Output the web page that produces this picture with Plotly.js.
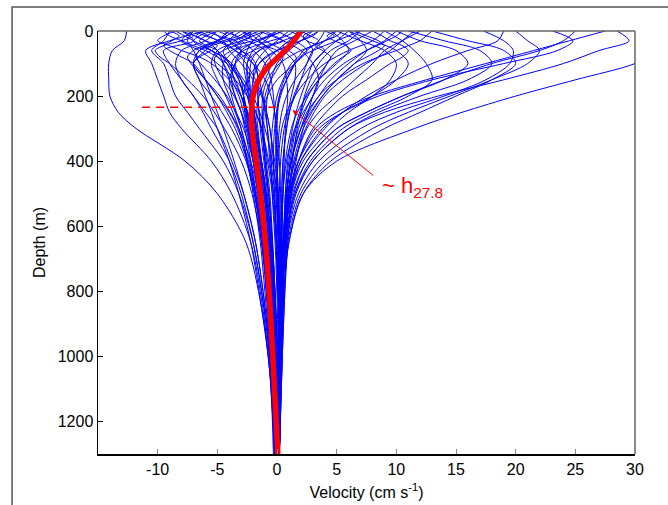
<!DOCTYPE html>
<html>
<head>
<meta charset="utf-8">
<script src="https://cdn.plot.ly/plotly-3.0.1.min.js"></script>
<style>html,body{margin:0;padding:0;background:#fff;}#chart{width:668px;height:505px;}</style>
</head>
<body>
<div id="chart"></div>
<script>
const depth = [0, 30, 60, 100, 150, 200, 250, 300, 400, 500, 650, 850, 1050, 1300];
// Finer depth levels for profiles with near-surface wiggles
const depthFine = [0, 15, 30, 45, 60, 80, 100, 150, 200, 300, 400, 500, 700, 1000, 1300];

// Surface-intensified eastward jet profiles (cm/s)
const jetProfiles = [
  [33, 33, 32, 30, 25, 20, 15.5, 11.5, 5, 2.2, 1.0, 0.5, 0.3, 0.1],
  [27.5, 24.5, 21.5, 17.5, 12.5, 8, 5, 3.2, 1.8, 1.0, 0.5, 0.3, 0.2, 0.1],
  [17.3, 19, 19.8, 19.5, 17.5, 14, 10, 7, 3.5, 1.8, 0.8, 0.4, 0.2, 0],
  [23.1, 24.8, 23.5, 19, 13, 8.5, 5.5, 3.5, 1.8, 1.0, 0.5, 0.3, 0.2, 0],
  [20, 21, 22, 21, 18, 14.5, 11, 8, 4, 2, 0.9, 0.4, 0.2, 0],
  [13, 16, 19, 20, 18, 15, 12, 9, 4.5, 2.2, 1.0, 0.5, 0.2, 0],
  [11, 14, 17, 18, 16, 12, 8.5, 6, 3, 1.6, 0.8, 0.4, 0.2, 0],
  [10, 12, 15, 16, 14, 10.5, 7.5, 5, 2.5, 1.4, 0.7, 0.3, 0.1, 0],
  [9, 10.5, 11.5, 12.5, 13, 11, 8, 5.5, 2.8, 1.5, 0.7, 0.3, 0.1, 0],
  [12, 10.5, 9, 8, 6.5, 5, 3.5, 2.5, 1.5, 0.9, 0.5, 0.3, 0.1, 0],
  [10, 9, 7.5, 6, 4.5, 3.5, 2.5, 2, 1.2, 0.8, 0.5, 0.3, 0.1, 0],
  [6, 8, 10, 11, 10, 8, 5.5, 3.8, 2, 1.2, 0.6, 0.3, 0.1, 0],
  [25, 24, 22, 18, 14, 10.5, 7.5, 5, 2.5, 1.3, 0.6, 0.3, 0.1, 0],
  [28.5, 29.5, 27, 24, 19, 13.5, 9, 6, 3, 1.5, 0.7, 0.3, 0.1, 0],
  [5, 7, 9, 10, 9.5, 8, 6, 4.5, 2.2, 1.2, 0.6, 0.3, 0.1, 0],
  [19, 18.5, 16, 13, 10, 7.5, 5.5, 4, 2, 1.1, 0.5, 0.2, 0.1, 0]
];

// Westward (negative) profiles
const westProfiles = [
  [-12.6, -12.8, -13.8, -14.1, -14.1, -14, -13.3, -11.8, -7.7, -5, -2.6, -1.3, -0.6, -0.3],
  [-6, -9, -11, -10.5, -10, -9.5, -9, -8, -5.5, -3.8, -2.2, -1.2, -0.6, -0.2],
  [-9, -9.5, -10.5, -9.5, -9, -8.5, -7.5, -6.5, -4.5, -3.2, -2, -1.1, -0.5, -0.2],
  [-8, -7, -9.5, -9, -8, -7, -6, -5, -3.8, -2.8, -1.8, -1.0, -0.5, -0.2],
  [-5, -6, -8, -8.5, -8, -7, -6.2, -5.5, -4, -3, -2, -1.1, -0.5, -0.2],
  [-7, -7.5, -7, -6.5, -6, -5.5, -5, -4.5, -3.6, -2.8, -1.8, -1.0, -0.5, -0.2],
  [-4, -5, -6, -7, -6.5, -6, -5.5, -5, -4, -3.2, -2.2, -1.3, -0.6, -0.2]
];

// Central bundle of profiles
const centralProfiles = [
  [-8, -6, -5, -4.5, -4, -3.5, -3, -2.7, -2.2, -1.8, -1.2, -0.8, -0.4, -0.1],
  [-6, -4, -3, -3.5, -4, -3.8, -3.4, -3, -2.5, -2, -1.4, -0.9, -0.4, -0.1],
  [-5, -6.5, -5, -4, -3, -2.5, -2.2, -2, -1.8, -1.5, -1.1, -0.7, -0.3, 0],
  [-3, -2, -3, -3.5, -3, -2.8, -2.6, -2.4, -2, -1.6, -1.1, -0.6, -0.3, 0],
  [-2, -3.5, -4.5, -4, -3.2, -2.8, -2.5, -2.2, -1.8, -1.4, -1.0, -0.6, -0.3, 0],
  [-1, -2, -2.5, -2.8, -2.6, -2.4, -2.2, -2, -1.6, -1.2, -0.8, -0.5, -0.2, 0],
  [0, -1, -2, -2.5, -2.5, -2.3, -2.1, -1.9, -1.5, -1.1, -0.7, -0.4, -0.2, 0.1],
  [1, 0, -1, -1.8, -2, -2, -1.9, -1.7, -1.3, -0.9, -0.5, -0.2, 0, 0.1],
  [2, 1, 0, -1, -1.5, -1.6, -1.5, -1.3, -1, -0.7, -0.4, -0.1, 0.1, 0.1],
  [3, 2, 1, 0, -0.5, -0.8, -0.9, -0.8, -0.6, -0.3, 0, 0.2, 0.2, 0.1],
  [4, 3.5, 2.5, 1.5, 0.8, 0.3, 0, -0.1, -0.1, 0, 0.2, 0.3, 0.3, 0.2],
  [5, 4, 3, 2.5, 2, 1.5, 1, 0.8, 0.5, 0.4, 0.4, 0.4, 0.3, 0.2],
  [6, 5, 4, 3, 2.5, 2, 1.6, 1.3, 0.9, 0.7, 0.6, 0.5, 0.4, 0.2],
  [7, 6, 4.5, 3.5, 2.8, 2.3, 2, 1.7, 1.3, 1.0, 0.8, 0.6, 0.4, 0.2],
  [8, 6.5, 5, 4.2, 3.5, 3, 2.6, 2.2, 1.6, 1.2, 0.9, 0.6, 0.4, 0.2],
  [-4, -3, -2, -1, -0.5, -0.3, -0.2, -0.1, 0, 0.1, 0.2, 0.3, 0.3, 0.2],
  [-6.5, -5, -3.5, -2, -1, -0.5, -0.2, 0, 0.2, 0.3, 0.3, 0.3, 0.3, 0.2],
  [-2.5, -1.5, -0.5, 0.5, 0.8, 0.9, 0.8, 0.7, 0.6, 0.5, 0.4, 0.4, 0.3, 0.2],
  [1.5, 2.5, 3, 2.5, 1.5, 0.8, 0.4, 0.2, 0, 0, 0.1, 0.2, 0.2, 0.1],
  [-1.5, 0.5, 2, 3, 3.5, 3, 2.2, 1.5, 0.8, 0.5, 0.4, 0.3, 0.3, 0.2],
  [-7, -8, -6.5, -5, -3.5, -2.5, -1.8, -1.3, -0.8, -0.4, -0.1, 0.1, 0.2, 0.1],
  [-3.5, -5, -6.5, -7, -6, -5, -4, -3.3, -2.4, -1.8, -1.2, -0.7, -0.3, -0.1],
  [-1, -3, -5, -5.5, -5, -4.3, -3.7, -3.2, -2.5, -1.9, -1.3, -0.8, -0.4, -0.1],
  [0.5, -1.5, -3.5, -4.5, -4.5, -4, -3.5, -3, -2.3, -1.7, -1.1, -0.6, -0.3, 0],
  [2.5, 0.5, -2, -3.5, -3.8, -3.5, -3, -2.6, -2, -1.5, -1.0, -0.6, -0.3, 0],
  [3.5, 2, 0, -1.5, -2.5, -2.8, -2.7, -2.4, -1.9, -1.4, -0.9, -0.5, -0.2, 0],
  [-5.5, -4.5, -4, -3, -2, -1.3, -0.9, -0.6, -0.3, -0.1, 0.1, 0.2, 0.2, 0.1],
  [-2, -1, 0.5, 1.5, 1.5, 1.2, 0.9, 0.6, 0.3, 0.2, 0.2, 0.3, 0.3, 0.2],
  [4.5, 5.5, 6, 5, 3.5, 2.5, 1.7, 1.2, 0.7, 0.5, 0.4, 0.4, 0.3, 0.2],
  [6, 7, 7.5, 6.5, 5, 3.8, 2.8, 2, 1.2, 0.8, 0.6, 0.5, 0.3, 0.2],
  [-4.5, -2.5, -1, -0.5, -1, -1.5, -1.7, -1.6, -1.3, -1, -0.6, -0.3, -0.1, 0],
  [-8.5, -7, -5.5, -4.5, -3.8, -3.2, -2.8, -2.5, -2, -1.6, -1.1, -0.6, -0.3, 0],
  [0, 1.5, 2.5, 1.5, 0, -0.8, -1.2, -1.2, -1, -0.7, -0.4, -0.1, 0.1, 0.1],
  [9, 8, 6, 4, 2.5, 1.5, 0.8, 0.4, 0.1, 0, 0.1, 0.2, 0.2, 0.1],
  [-3, -4, -3, -2, -1.5, -1.2, -1, -0.8, -0.5, -0.2, 0, 0.2, 0.2, 0.1]
];

// Profiles with near-surface wiggles (read at depthFine)
const wigglyProfiles = [
  [-9, -8.2, -8.8, -9.5, -9, -8, -7, -6, -5, -3.5, -2.5, -1.8, -1, -0.4, -0.1],
  [-8.5, -9.5, -10, -9, -8, -6.5, -5.5, -4, -3, -2, -1.3, -0.9, -0.4, -0.1, 0],
  [-7.5, -7, -8, -9.5, -10.2, -9.8, -9, -7.5, -6.2, -4.4, -3, -2.1, -1.1, -0.5, -0.2],
  [-6, -6.8, -6, -5, -5.5, -6.5, -7, -6.5, -5.5, -3.8, -2.6, -1.9, -1, -0.5, -0.1],
  [-5, -4.2, -5, -6, -5.5, -4.5, -3.8, -3.2, -2.8, -2.2, -1.7, -1.3, -0.7, -0.3, 0],
  [-4, -4.5, -3.5, -3, -3.8, -4.5, -4.2, -3.5, -3, -2.3, -1.8, -1.3, -0.7, -0.3, 0],
  [-3, -2.2, -2.8, -3.5, -3, -2.2, -1.8, -1.6, -1.6, -1.4, -1.1, -0.8, -0.4, -0.1, 0.1],
  [-2, -2.8, -1.8, -1, -1.5, -2.2, -2.5, -2.4, -2.2, -1.8, -1.4, -1, -0.5, -0.2, 0],
  [-1, -0.2, 0.5, -0.5, -1.5, -2, -2.2, -2.3, -2.1, -1.7, -1.3, -0.9, -0.5, -0.2, 0],
  [0, -0.8, -1.5, -1, 0, 0.5, 0.3, -0.5, -1, -1.1, -0.9, -0.6, -0.3, 0, 0.1],
  [1, 1.8, 1.2, 0.5, 1, 1.6, 1.5, 0.8, 0.2, -0.2, -0.3, -0.2, 0, 0.2, 0.2],
  [2, 2.8, 3.5, 3, 2.2, 1.8, 1.2, 0.5, 0, -0.4, -0.5, -0.4, -0.1, 0.1, 0.1],
  [3, 2.2, 2.5, 3.5, 4, 3.5, 3, 2, 1.4, 0.8, 0.5, 0.4, 0.3, 0.2, 0.1],
  [4, 4.8, 4, 3.2, 3.8, 4.5, 4.2, 3.2, 2.4, 1.5, 1, 0.7, 0.5, 0.3, 0.2],
  [5, 4.2, 4.8, 5.8, 6.2, 5.5, 4.8, 3.5, 2.6, 1.6, 1.1, 0.8, 0.5, 0.3, 0.2],
  [6.5, 7.5, 8.5, 9, 8.5, 7.5, 6.5, 5, 3.8, 2.2, 1.4, 0.9, 0.6, 0.3, 0.2],
  [8, 8.8, 9.5, 10.5, 11, 10.5, 9.5, 7.5, 5.5, 3, 1.8, 1.1, 0.6, 0.3, 0.1],
  [11.5, 11, 10.5, 10, 9.5, 8.5, 7.5, 5.5, 4, 2.4, 1.5, 1, 0.6, 0.3, 0.1],
  [13, 12.5, 12, 11, 10, 8.5, 7.2, 5, 3.5, 2, 1.2, 0.8, 0.5, 0.2, 0.1],
  [10.5, 10, 9.2, 8.4, 7.5, 6.5, 5.6, 4, 3, 1.8, 1.2, 0.8, 0.5, 0.3, 0.1],
  [-2.5, -3.2, -4.5, -6, -7, -7.5, -7.2, -6, -4.8, -3.2, -2.2, -1.6, -0.9, -0.4, -0.1],
  [-1.5, -2.5, -4, -5.5, -6.5, -6.8, -6.4, -5.2, -4.2, -2.8, -2, -1.5, -0.8, -0.3, 0],
  [0.5, -0.5, -2, -3.5, -4.5, -5.2, -5.2, -4.5, -3.6, -2.5, -1.8, -1.3, -0.7, -0.3, 0],
  [1.5, 0.8, -0.5, -1.8, -2.8, -3.5, -3.8, -3.6, -3, -2.2, -1.6, -1.1, -0.6, -0.2, 0],
  [-7, -6, -4.8, -4, -3.5, -3, -2.6, -1.8, -1.2, -0.6, -0.2, 0.1, 0.3, 0.3, 0.2],
  [-5.5, -6.5, -7, -6.5, -5.5, -4.5, -3.8, -2.8, -2, -1, -0.4, 0, 0.2, 0.3, 0.2],
  [-9.5, -9, -8, -7, -6, -5, -4.2, -3, -2.3, -1.3, -0.7, -0.3, 0, 0.2, 0.1],
  [5.5, 5, 4, 3, 2, 1, 0.2, -0.8, -1.2, -1.2, -1, -0.7, -0.3, 0, 0.1],
  [7, 6, 5, 4, 3, 2, 1.5, 0.6, 0.2, 0, 0, 0.1, 0.2, 0.2, 0.1],
  [3.5, 3, 2, 1, 0, -1, -1.5, -2, -2.1, -1.8, -1.4, -1, -0.5, -0.2, 0]
];

// Mean profile (thick red)
const meanDepth = [0, 40, 80, 120, 160, 200, 250, 300, 400, 500, 700, 1000, 1300];
const meanVel   = [2.0, 1.2, 0.1, -1.0, -1.65, -2.0, -2.15, -2.1, -1.75, -1.4, -0.85, -0.35, 0.07];

// h27.8 marker
const hDepth = 234;
const hLineX = [-11.3, 0.4];
const arrowHead = [1.3, 243];
const arrowTail = [8.2, 448];
const labelPos = [8.6, 478];

const xTicks = [-10, -5, 0, 5, 10, 15, 20, 25, 30];
const yTicks = [0, 200, 400, 600, 800, 1000, 1200];

const traces = [];
function addProfile(p, d) {
  traces.push({
    x: p, y: d, type: 'scatter', mode: 'lines',
    line: {color: 'rgb(0,0,255)', width: 1, shape: 'spline', smoothing: 0.9},
    hoverinfo: 'skip', showlegend: false
  });
}
[...westProfiles, ...centralProfiles, ...jetProfiles].forEach(p => addProfile(p, depth));
wigglyProfiles.forEach(p => addProfile(p, depthFine));

traces.push({
  x: hLineX, y: [hDepth, hDepth], type: 'scatter', mode: 'lines',
  line: {color: 'rgb(255,0,0)', width: 1.5, dash: '8px,6px'}, showlegend: false
});
traces.push({
  x: meanVel, y: meanDepth, type: 'scatter', mode: 'lines',
  line: {color: 'rgb(255,0,0)', width: 5.5, shape: 'spline', smoothing: 1},
  showlegend: false
});

const font = {family: 'Liberation Sans, Arial, sans-serif', size: 16, color: '#000'};

const layout = {
  width: 668, height: 505,
  margin: {l: 98, r: 33, t: 31, b: 51},
  paper_bgcolor: '#fff', plot_bgcolor: '#fff',
  font: font,
  showlegend: false,
  xaxis: {
    range: [-15, 30], tickvals: xTicks, ticktext: xTicks.map(String),
    ticks: 'inside', ticklen: 5, tickcolor: '#888', tickwidth: 1,
    showline: true, linecolor: '#000', linewidth: 1.5,
    showgrid: false, zeroline: false,
    title: {text: 'Velocity (cm s<sup>-1</sup>)', font: font, standoff: 10}
  },
  yaxis: {
    range: [1300, 0], tickvals: yTicks, ticktext: yTicks.map(String),
    ticks: 'inside', ticklen: 5, tickcolor: '#000', tickwidth: 1,
    showline: true, linecolor: '#000', linewidth: 1.5,
    showgrid: false, zeroline: false,
    title: {text: 'Depth (m)', font: font, standoff: 8}
  },
  shapes: [
    {type: 'line', xref: 'paper', yref: 'paper', x0: 0, x1: 1, y0: 1, y1: 1, line: {color: '#666', width: 1.5}},
    {type: 'line', xref: 'paper', yref: 'paper', x0: 1, x1: 1, y0: 0, y1: 1, line: {color: '#666', width: 1.5}},
    {type: 'rect', xref: 'paper', yref: 'paper', x0: -0.160, x1: 1.2, y0: -0.3, y1: 1.057, line: {color: '#555', width: 1.5}}
  ],
  annotations: [
    {x: arrowHead[0], y: arrowHead[1], ax: arrowTail[0], ay: arrowTail[1], axref: 'x', ayref: 'y',
     xref: 'x', yref: 'y', text: '', showarrow: true, arrowhead: 2, arrowsize: 1, arrowwidth: 1, arrowcolor: 'rgb(255,0,0)'},
    {x: labelPos[0], y: labelPos[1], xref: 'x', yref: 'y', text: '~ h<sub>27.8</sub>', showarrow: false,
     xanchor: 'left', yanchor: 'middle', font: {family: 'Liberation Sans, Arial, sans-serif', size: 22, color: 'rgb(255,0,0)'}}
  ]
};

Plotly.newPlot('chart', traces, layout, {staticPlot: true, displayModeBar: false});
</script>
</body>
</html>
